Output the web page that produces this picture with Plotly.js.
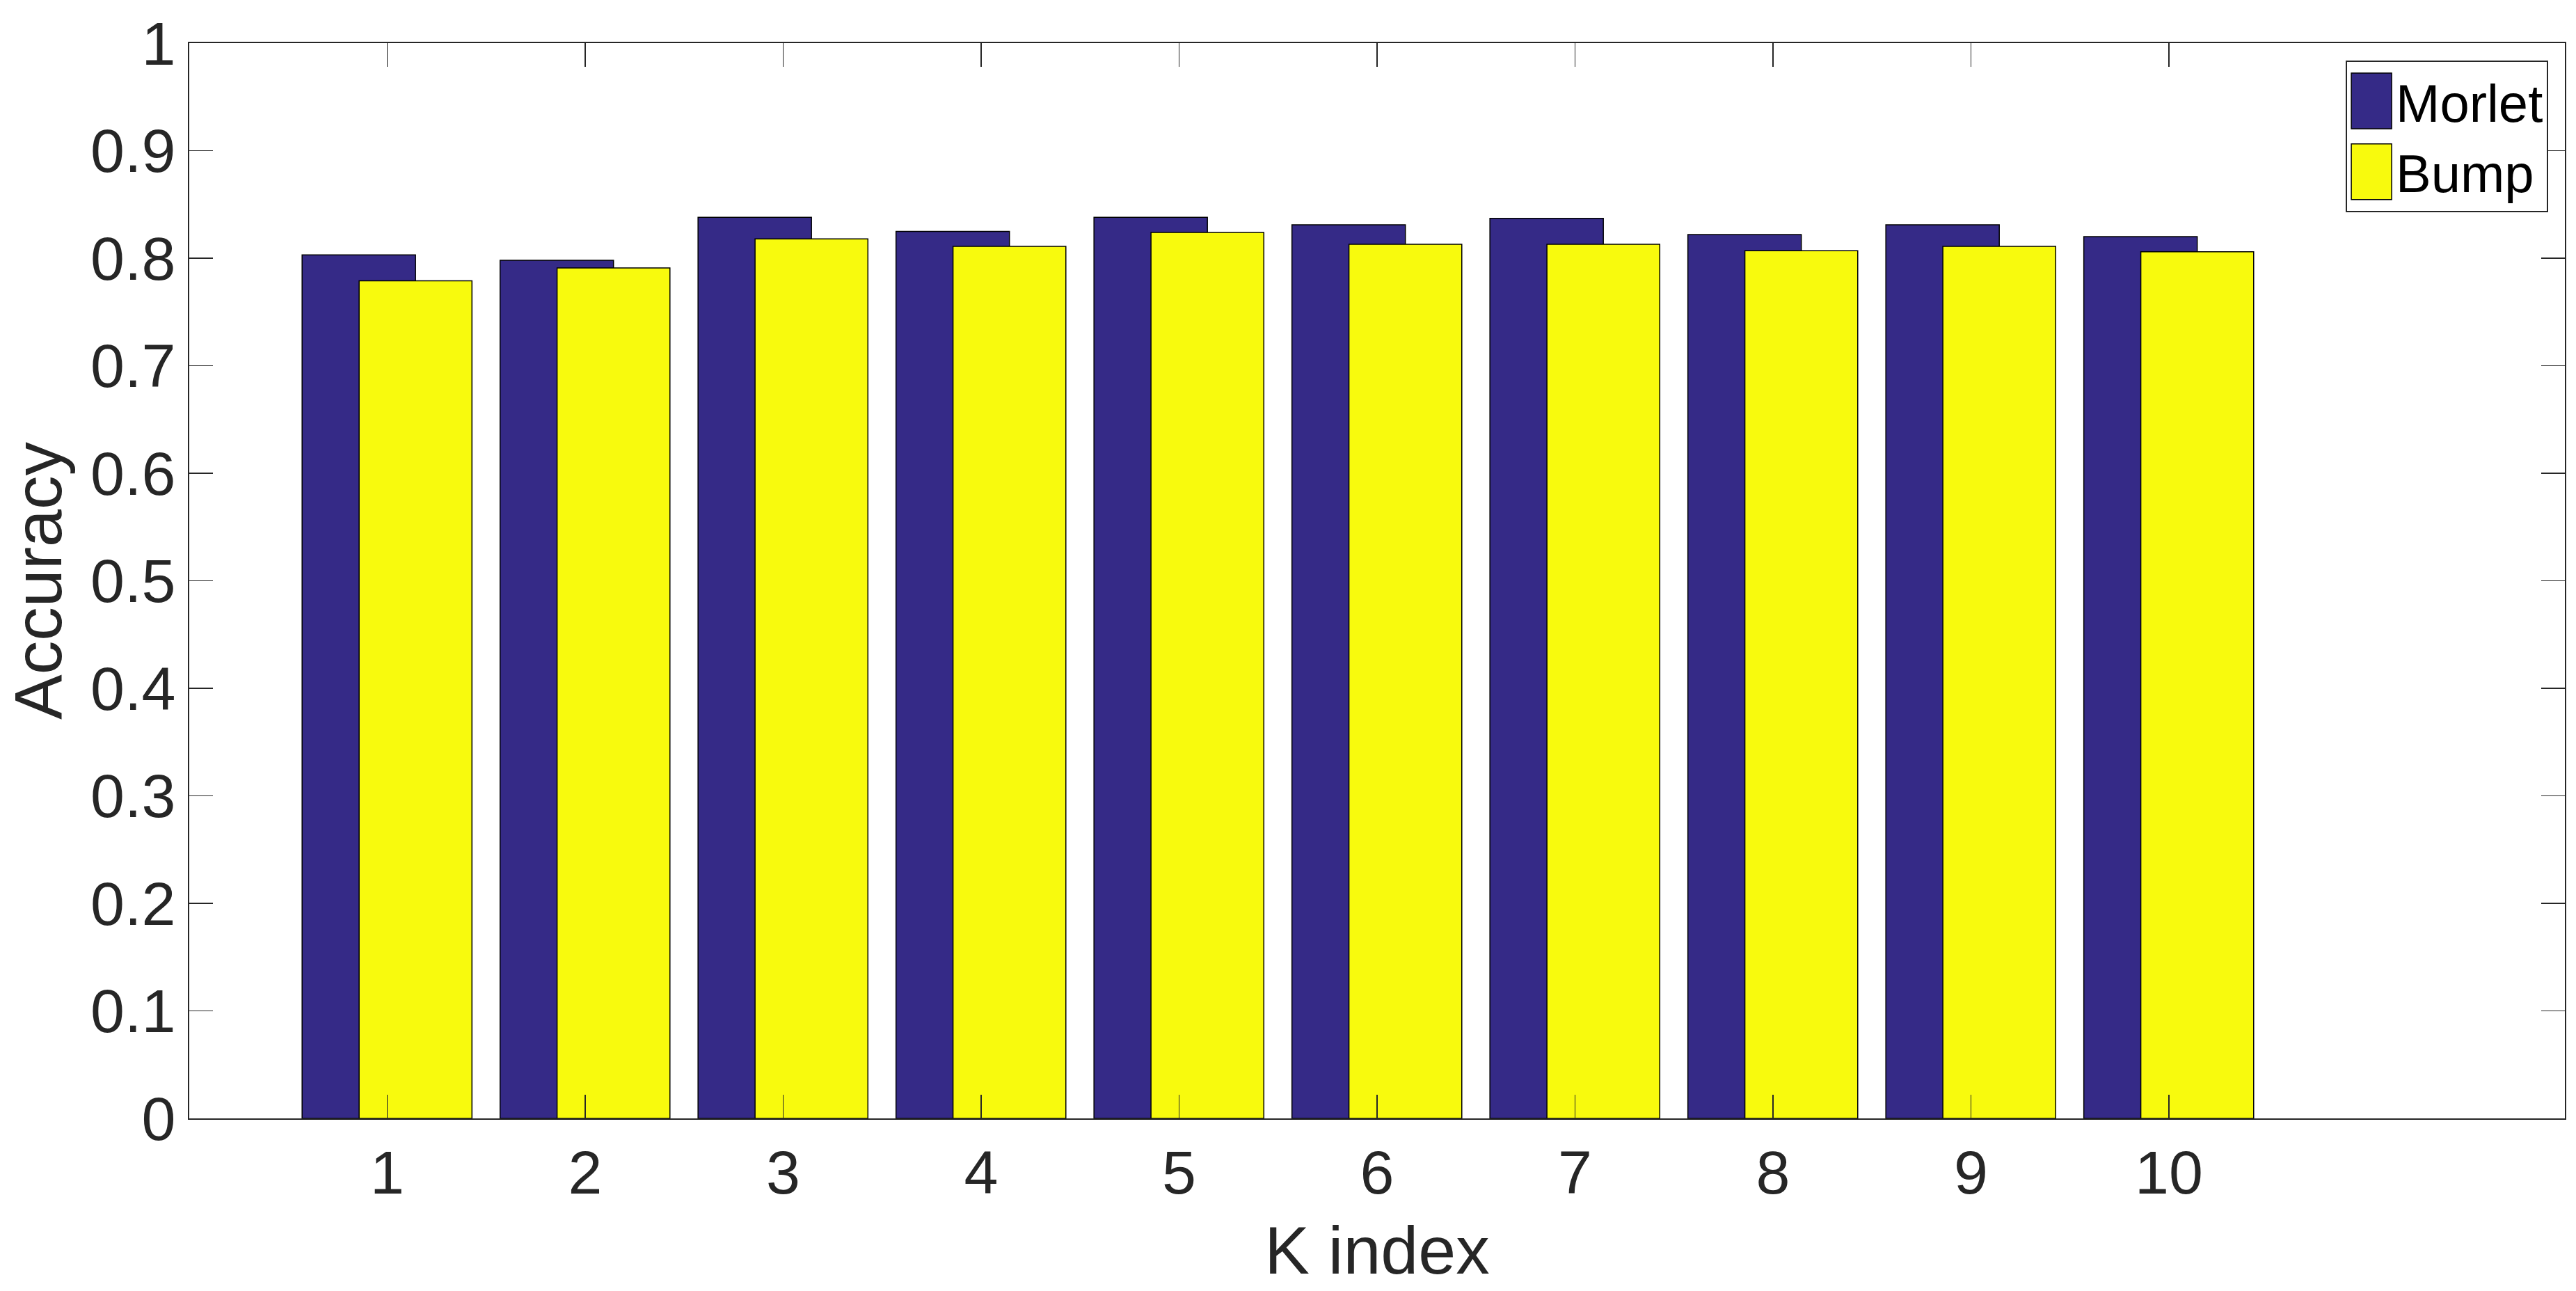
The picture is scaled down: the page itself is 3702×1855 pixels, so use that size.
<!DOCTYPE html>
<html>
<head>
<meta charset="utf-8">
<script src="https://cdn.plot.ly/plotly-3.0.1.min.js"></script>
<style>
  html, body { margin: 0; padding: 0; background: #ffffff; }
  #chart { width: 3702px; height: 1855px; }
</style>
</head>
<body>
<div id="chart"></div>
<script>
// ---- data ----
const kIndex = [1, 2, 3, 4, 5, 6, 7, 8, 9, 10];
const morletAccuracy = [0.803, 0.798, 0.838, 0.825, 0.838, 0.831, 0.837, 0.822, 0.831, 0.820];
const bumpAccuracy   = [0.779, 0.791, 0.818, 0.811, 0.824, 0.813, 0.813, 0.807, 0.811, 0.806];
const seriesNames = ['Morlet', 'Bump'];
const yTickValues = [0, 0.1, 0.2, 0.3, 0.4, 0.5, 0.6, 0.7, 0.8, 0.9, 1];
const yTickLabels = ['0', '0.1', '0.2', '0.3', '0.4', '0.5', '0.6', '0.7', '0.8', '0.9', '1'];
const xTickLabels = ['1', '2', '3', '4', '5', '6', '7', '8', '9', '10'];

const FONT = '"Liberation Sans", Arial, Helvetica, sans-serif';
const AXIS_COLOR = '#262626';

const traces = [
  {
    type: 'bar',
    name: seriesNames[0],
    x: kIndex,
    y: morletAccuracy,
    width: 0.573,
    offset: -0.43,
    marker: { color: '#352a87', line: { color: '#000000', width: 1.5 } },
    hoverinfo: 'x+y+name'
  },
  {
    type: 'bar',
    name: seriesNames[1],
    x: kIndex,
    y: bumpAccuracy,
    width: 0.57,
    offset: -0.142,
    marker: { color: '#f8fa0d', line: { color: '#000000', width: 1.5 } },
    hoverinfo: 'x+y+name'
  }
];

const layout = {
  width: 3702,
  height: 1855,
  paper_bgcolor: '#ffffff',
  plot_bgcolor: '#ffffff',
  barmode: 'overlay',
  margin: { l: 272, r: 16, t: 62, b: 248, pad: 0 },
  font: { family: FONT, size: 88, color: AXIS_COLOR },
  showlegend: true,
  legend: {
    x: 0.993, xanchor: 'right',
    y: 0.9838, yanchor: 'top',
    bgcolor: '#ffffff',
    bordercolor: AXIS_COLOR,
    borderwidth: 2,
    font: { family: FONT, size: 76, color: '#000000' },
    itemwidth: 60,
    tracegroupgap: 0,
    traceorder: 'normal'
  },
  xaxis: {
    range: [0, 12],
    tickmode: 'array',
    tickvals: kIndex,
    ticktext: xTickLabels,
    ticks: 'inside',
    ticklen: 34,
    tickwidth: 1.5,
    tickcolor: AXIS_COLOR,
    showline: true,
    linecolor: AXIS_COLOR,
    linewidth: 2,
    mirror: 'ticks',
    showgrid: false,
    zeroline: false,
    tickfont: { family: FONT, size: 88, color: AXIS_COLOR },
    title: { text: 'K index', font: { family: FONT, size: 97, color: AXIS_COLOR }, standoff: 30 }
  },
  yaxis: {
    range: [0, 1],
    tickmode: 'array',
    tickvals: yTickValues,
    ticktext: yTickLabels,
    ticks: 'inside',
    ticklen: 34,
    tickwidth: 1.5,
    tickcolor: AXIS_COLOR,
    showline: true,
    linecolor: AXIS_COLOR,
    linewidth: 2,
    mirror: 'ticks',
    showgrid: false,
    zeroline: false,
    tickfont: { family: FONT, size: 88, color: AXIS_COLOR },
    title: { text: 'Accuracy', font: { family: FONT, size: 97, color: AXIS_COLOR }, standoff: 14 }
  }
};

Plotly.newPlot('chart', traces, layout, { displayModeBar: false, staticPlot: true }).then(function () {
  // enlarge legend swatches to match the reference's tall rectangles
  document.querySelectorAll('#chart .legend g.legendpoints path').forEach(function (p) {
    p.setAttribute('d', 'M29,40H-29V-40H29Z');
  });
});
</script>
</body>
</html>
